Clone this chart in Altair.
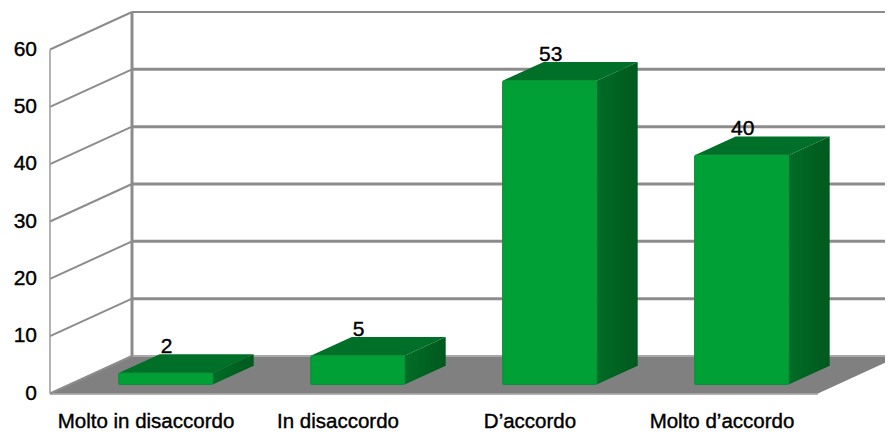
import altair as alt
import pandas as pd

categories = ["Molto in disaccordo", "In disaccordo", "D’accordo", "Molto d’accordo"]
values = [2, 5, 53, 40]
ticks = [0, 10, 20, 30, 40, 50, 60]

PX_X, PX_Y = 192.0, 5.733
ORG_X, ORG_Y = 50.0, 392.5
W, H = 877, 424
XDOM = [(8 - ORG_X) / PX_X, (8 + W - ORG_X) / PX_X]
YDOM = [(ORG_Y - 8 - H) / PX_Y, (ORG_Y - 8) / PX_Y]
DX, DY = 82 / PX_X, 37.5 / PX_Y
N = len(categories)
BAR_W = 94 / PX_X
D0, D1 = 0.24, 0.74

xs = alt.Scale(domain=XDOM, nice=False, zero=False)
ys = alt.Scale(domain=YDOM, nice=False, zero=False)
X = alt.X("x:Q", scale=xs, axis=None)
Y = alt.Y("y:Q", scale=ys, axis=None)
X2, Y2 = alt.X2("x2:Q"), alt.Y2("y2:Q")

# floor
floor = pd.DataFrame([
    {"x": 0, "y": 0, "y2": 0},
    {"x": DX, "y": DY, "y2": 0},
    {"x": N, "y": DY, "y2": 0},
    {"x": N + DX, "y": DY, "y2": DY},
])
floor_l = alt.Chart(floor).mark_area(color="#808080", clip=True).encode(x=X, y=Y, y2=Y2)

# walls
diag = pd.DataFrame(
    [{"t": t, "x": 0, "y": t} for t in ticks] + [{"t": t, "x": DX, "y": t + DY} for t in ticks]
)
diag_l = alt.Chart(diag).mark_line(color="#8c8c8c", strokeWidth=2).encode(x=X, y=Y, detail="t:N")

grid = pd.DataFrame([{"x": DX, "x2": XDOM[1], "y": t + DY, "w": 2 if t == 60 else 3} for t in ticks[1:]])
grid_l = alt.Chart(grid).mark_rule(color="#8c8c8c", clip=True).encode(
    x=X, x2=X2, y=Y, strokeWidth=alt.StrokeWidth("w:Q", scale=None)
)
floor_back = alt.Chart(pd.DataFrame([{"x": DX, "x2": XDOM[1], "y": DY}])).mark_rule(
    color="#a8a8a8", strokeWidth=2, clip=True).encode(x=X, x2=X2, y=Y)
floor_front = alt.Chart(pd.DataFrame([{"x": 0, "x2": N, "y": -0.1}])).mark_rule(
    color="#9a9a9a", strokeWidth=1.5).encode(x=X, x2=X2, y=Y)

walls = pd.DataFrame([
    {"x": 0, "y": 0, "y2": 60, "w": 1.5, "c": "#9a9a9a"},
    {"x": DX, "y": DY, "y2": 60 + DY, "w": 3, "c": "#8c8c8c"},
])
wall_l = alt.Chart(walls).mark_rule().encode(
    x=X, y=Y, y2=Y2,
    strokeWidth=alt.StrokeWidth("w:Q", scale=None),
    color=alt.Color("c:N", scale=None),
)

# bars
front_rows, side_rows, top_rows = [], [], []
for i, (cat, v) in enumerate(zip(categories, values)):
    l = i + 0.5 - BAR_W / 2
    r = i + 0.5 + BAR_W / 2
    front_rows.append({"x": l + D0 * DX, "x2": r + D0 * DX, "y": D0 * DY, "y2": v + D0 * DY})
    side_rows += [
        {"cat": cat, "x": r + D0 * DX, "y": v + D0 * DY, "y2": D0 * DY},
        {"cat": cat, "x": r + D1 * DX, "y": v + D1 * DY, "y2": D1 * DY},
    ]
    top_rows += [
        {"cat": cat, "x": l + D0 * DX, "y": v + D0 * DY, "y2": v + D0 * DY},
        {"cat": cat, "x": l + D1 * DX, "y": v + D1 * DY, "y2": v + D0 * DY},
        {"cat": cat, "x": r + D0 * DX, "y": v + D1 * DY, "y2": v + D0 * DY},
        {"cat": cat, "x": r + D1 * DX, "y": v + D1 * DY, "y2": v + D1 * DY},
    ]

top_l = alt.Chart(pd.DataFrame(top_rows)).mark_area(color="#006F27", line=False).encode(
    x=X, y=Y, y2=Y2, detail="cat:N")
side_l = alt.Chart(pd.DataFrame(side_rows)).mark_area(
    color=alt.Gradient(gradient="linear", x1=0, x2=1, y1=0, y2=0,
                       stops=[alt.GradientStop(color="#006C27", offset=0),
                              alt.GradientStop(color="#00591D", offset=1)])
).encode(x=X, y=Y, y2=Y2, detail="cat:N")
front_l = alt.Chart(pd.DataFrame(front_rows)).mark_rect(
    color="#00A037", stroke="#0B9238", strokeWidth=1.2, cornerRadius=2
).encode(x=X, x2=X2, y=Y, y2=Y2)

# texts
FONT = "Liberation Sans"
lab = pd.DataFrame([
    {"x": i + 0.5 + (D0 + 0.0) * DX, "y": v + D0 * DY, "t": str(v)} for i, v in enumerate(values)
])
lab_l = alt.Chart(lab).mark_text(font=FONT, fontSize=21, color="black", dy=-26, dx=1, baseline="middle",
                                 stroke="black", strokeWidth=0.4).encode(x=X, y=Y, text="t:N")

cat_df = pd.DataFrame([{"x": i + 0.5, "y": 0, "t": c} for i, c in enumerate(categories)])
cat_l = alt.Chart(cat_df).mark_text(font=FONT, fontSize=20.5, color="black", dy=28.5, baseline="middle",
                                    stroke="black", strokeWidth=0.4).encode(x=X, y=Y, text="t:N")

tick_df = pd.DataFrame([{"x": 0, "y": t, "t": str(t)} for t in ticks])
tick_l = alt.Chart(tick_df).mark_text(font=FONT, fontSize=21, color="black", align="right", dx=-13,
                                      baseline="middle", stroke="black", strokeWidth=0.4).encode(
    x=X, y=Y, text="t:N")

chart = alt.layer(
    floor_l, floor_back, floor_front, diag_l, grid_l, wall_l,
    top_l, side_l, front_l, lab_l, cat_l, tick_l
).properties(width=W, height=H, padding=0, background="white").configure_view(stroke=None)

chart.save("out.html", embed_options={"renderer": "svg", "actions": False})
